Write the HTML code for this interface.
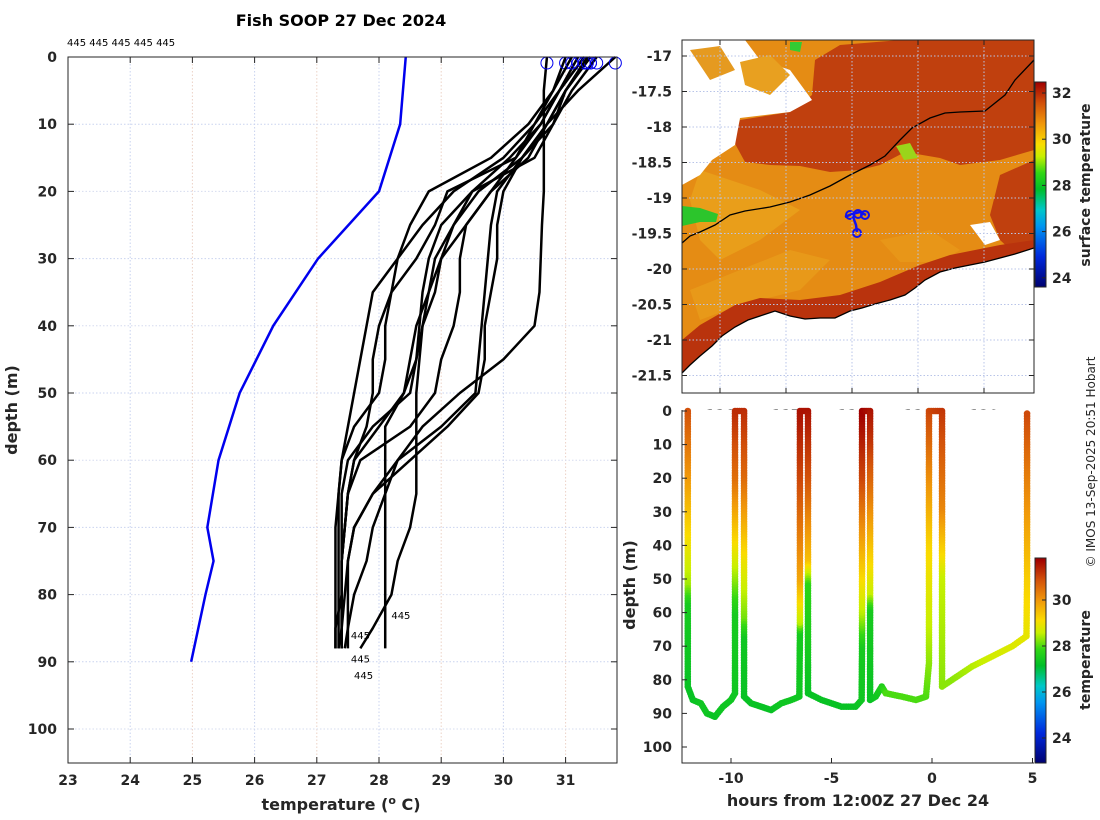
<!DOCTYPE html>
<html><head><meta charset="utf-8"><style>
body{margin:0;background:#fff}
svg{display:block}
text{font-family:"DejaVu Sans","Liberation Sans",sans-serif;fill:#262626}
.tk{font-size:14px;font-weight:bold}
.lb{font-size:16px;font-weight:bold}
</style></head><body>
<svg id="s" width="1100" height="820" viewBox="0 0 1100 820" xmlns="http://www.w3.org/2000/svg">
<rect width="1100" height="820" fill="#fff"/>
<text x="341" y="26" text-anchor="middle" style="font-size:16px;font-weight:bold;fill:#000">Fish SOOP 27 Dec 2024</text>
<text x="67" y="46" style="font-size:10px;fill:#000">445 445 445 445 445</text>
<g id="left"></g>
<g id="map"></g>
<g id="ts"></g>
<text transform="translate(1095,462) rotate(-90)" text-anchor="middle" style="font-size:12px;fill:#262626">© IMOS 13-Sep-2025 20:51 Hobart</text>
</svg>
<script>
// ---------- profile data ----------
const climDepth=[0,10,20,30,40,50,60,70,75,80,90];
const climTemp=[28.43,28.34,28.0,27.02,26.3,25.76,25.42,25.24,25.34,25.21,24.98];
const profDepth=[0,5,10,15,20,25,30,35,40,45,50,55,60,65,70,75,80,85,88];
const prof1=[30.7,30.65,30.65,30.65,30.65,30.62,30.6,30.58,30.5,30.0,29.3,28.7,28.3,28.1,27.9,27.8,27.6,27.5,27.45];
const prof2=[31.8,31.2,30.7,30.3,29.9,29.8,29.75,29.7,29.65,29.6,29.55,29.0,28.3,27.9,27.6,27.5,27.45,27.4,27.4];
const prof3=[31.4,31.0,30.8,30.5,29.5,29.0,28.8,28.7,28.65,28.6,28.4,28.0,27.6,27.5,27.45,27.4,27.4,27.4,27.35];
const prof4=[31.3,30.9,30.6,30.2,29.8,29.4,29.3,29.3,29.2,29.0,28.9,28.5,27.7,27.5,27.45,27.4,27.4,27.4,27.4];
const prof5=[31.5,31.1,30.8,30.3,30.0,29.9,29.9,29.8,29.7,29.7,29.6,29.1,28.5,27.9,27.6,27.5,27.5,27.5,27.5];
const prof6=[31.2,30.9,30.5,30.2,29.1,28.9,28.6,28.2,28.0,27.9,27.9,27.8,27.6,27.5,27.45,27.4,27.4,27.3,27.3];
const prof7=[31.0,30.8,30.5,30.0,29.2,28.7,28.3,27.9,27.8,27.7,27.6,27.5,27.4,27.35,27.3,27.3,27.3,27.3,27.3];
const prof8=[31.4,31.0,30.7,30.4,29.8,29.4,29.0,28.8,28.6,28.5,28.4,28.1,28.1,28.1,28.1,28.1,28.1,28.1,28.1];
const prof9=[31.3,30.9,30.6,30.1,29.5,29.2,28.9,28.8,28.7,28.65,28.6,28.6,28.6,28.6,28.5,28.3,28.2,27.9,27.7];
const prof10=[31.1,30.8,30.4,29.8,28.8,28.5,28.3,28.2,28.1,28.1,28.0,27.6,27.4,27.35,27.35,27.35,27.35,27.35,27.35];
const prof11=[31.35,31.0,30.7,30.3,29.6,29.2,29.0,28.9,28.7,28.6,28.5,27.9,27.5,27.4,27.4,27.4,27.4,27.4,27.4];
const tempTicks=[23,24,25,26,27,28,29,30,31];
const depthTicks=[0,10,20,30,40,50,60,70,80,90,100];
// ---------- depth-time data ----------
const diveHour=[-12.15,-12.15,-12.15,-12.15,-12.15,-12.15,-11.9,-11.5,-11.2,-10.8,-10.4,-10.0,-9.8,-9.8,-9.8,-9.8,-9.8,
 -9.35,-9.35,-9.35,-9.35,-9.35,-9.35,-9.0,-8.5,-8.0,-7.5,-7.0,-6.6,-6.57,-6.57,-6.57,-6.57,-6.57,
 -6.17,-6.17,-6.17,-6.17,-6.17,-5.5,-4.5,-3.8,-3.5,-3.48,-3.48,-3.48,-3.48,
 -3.08,-3.08,-3.08,-3.08,-3.08,-3.08,-2.8,-2.5,-2.3,-1.5,-0.8,-0.3,-0.15,-0.15,-0.15,-0.15,
 0.5,0.5,0.5,0.5,1,2,3,4,4.7,4.73,4.73,4.73];
const diveDepth=[0,20,40,52,58,82,86,87,90,91,88,86,84,60,50,20,0,
 0,20,45,62,68,85,87,88,89,87,86,85,66,63,50,20,0,
 0,20,45,52,84,86,88,88,86,70,60,20,0,
 0,10,25,55,60,86,85,82,84,85,86,85,75,40,22,0,
 0,30,50,82,80,76,73,70,67,50,20,0];
const diveTemp=[30.9,30.0,29.0,28.4,27.5,27.3,27.3,27.4,27.4,27.3,27.4,27.4,27.4,27.5,28.3,30.5,31.3,
 31.3,30.6,29.0,28.2,27.4,27.3,27.3,27.3,27.3,27.4,27.4,27.4,27.5,28.5,29.8,31.0,31.6,
 31.6,30.9,29.5,27.8,27.3,27.3,27.3,27.3,27.4,27.5,28.5,31.0,31.8,
 31.6,31.2,30.4,28.6,27.5,27.3,27.4,27.6,28.0,28.0,28.0,28.0,28.3,29.2,30.0,31.0,
 31.2,30.2,28.6,28.3,28.3,28.5,28.7,28.8,28.9,29.3,30.3,31.0];
const hourTicks=[-10,-5,0,5];
const tsDepthTicks=[0,10,20,30,40,50,60,70,80,90,100];
const latTicks=[-17,-17.5,-18,-18.5,-19,-19.5,-20,-20.5,-21,-21.5];
const lonTicks=[116,117,118,119,120];
const sstTicks=[24,26,28,30,32];
const tsColorTicks=[24,26,28,30];

const NS="http://www.w3.org/2000/svg";
function mk(tag,attrs,parent){const e=document.createElementNS(NS,tag);for(const k in attrs)e.setAttribute(k,attrs[k]);parent.appendChild(e);return e;}
function cmap(f){
 const st=[[0,[0,0,110]],[0.15,[0,40,220]],[0.3,[0,150,240]],[0.38,[0,200,200]],[0.48,[0,190,40]],[0.56,[50,215,20]],[0.64,[200,240,0]],[0.7,[250,220,0]],[0.8,[240,150,10]],[0.9,[210,80,10]],[1,[160,0,0]]];
 f=Math.max(0,Math.min(1,f));
 for(let i=1;i<st.length;i++){if(f<=st[i][0]){const a=st[i-1],b=st[i],t=(f-a[0])/(b[0]-a[0]);const c=a[1].map((v,j)=>Math.round(v+(b[1][j]-v)*t));return `rgb(${c[0]},${c[1]},${c[2]})`;}}
 return 'rgb(160,0,0)';
}
// ---------- LEFT PLOT ----------
const L=document.getElementById('left');
const LX0=68,LX1=617,LY0=57,LY1=763;
const xT=t=>LX0+(t-23)*62.2, yD=d=>LY0+d*6.72;
tempTicks.forEach((t,i)=>{
 const g=mk('line',{x1:xT(t),x2:xT(t),y1:LY0,y2:LY1,stroke:i%2?'#c9d3ef':'#ecd2c6','stroke-dasharray':'1.5,2','stroke-width':1},L);
 
 mk('line',{x1:xT(t),x2:xT(t),y1:LY0,y2:LY0+6,stroke:'#262626'},L);
 mk('line',{x1:xT(t),x2:xT(t),y1:LY1,y2:LY1-6,stroke:'#262626'},L);
 const tx=mk('text',{x:xT(t),y:785,'text-anchor':'middle',class:'tk'},L);tx.textContent=t;
 
});
depthTicks.forEach((d,i)=>{
 const g=mk('line',{x1:LX0,x2:LX1,y1:yD(d),y2:yD(d),stroke:i%2?'#c9d3ef':'#d6dcef','stroke-dasharray':'1.5,2'},L);
 
 mk('line',{x1:LX0,x2:LX0+6,y1:yD(d),y2:yD(d),stroke:'#262626'},L);
 mk('line',{x1:LX1,x2:LX1-6,y1:yD(d),y2:yD(d),stroke:'#262626'},L);
 const tx=mk('text',{x:57,y:yD(d)+5,'text-anchor':'end',class:'tk'},L);tx.textContent=d;
 
});
const cl=mk('polyline',{points:climDepth.map((d,i)=>xT(climTemp[i])+','+yD(d)).join(' '),fill:'none',stroke:'#0000ee','stroke-width':2.5},L);

const profs=[prof1,prof2,prof3,prof4,prof5,prof6,prof7,prof8,prof9,prof10,prof11];
profs.forEach((p,k)=>{
 const pl=mk('polyline',{points:p.map((t,i)=>xT(t)+','+yD(profDepth[i])).join(' '),fill:'none',stroke:'#000','stroke-width':2.5,'stroke-linejoin':'round'},L);
 
 const c=mk('circle',{cx:xT(p[0]),cy:yD(0)+6,r:6,fill:'none',stroke:'#0000ee','stroke-width':1},L);
 
});
[[28.15,83],[27.5,86],[27.5,89.5],[27.55,92]].forEach(([t,d],i)=>{
 const tx=mk('text',{x:xT(t)+3,y:yD(d)+4,style:'font-size:10px;fill:#000'},L);tx.textContent='445';
 
});
mk('rect',{x:LX0,y:LY0,width:LX1-LX0,height:LY1-LY0,fill:'none',stroke:'#262626','stroke-width':1},L);
let t1=mk('text',{x:341,y:810,'text-anchor':'middle',class:'lb'},L);
t1.innerHTML='temperature (<tspan dy="-6" style="font-size:11px">o</tspan><tspan dy="6"> C)</tspan>';

t1=mk('text',{transform:'translate(17,410) rotate(-90)','text-anchor':'middle',class:'lb'},L);t1.textContent='depth (m)';


// ---------- MAP ----------
const M=document.getElementById('map');
const MX0=682,MX1=1034,MY0=40,MY1=393;
const lonX=l=>720+(l-116)*66, latY=a=>56+(-17-a)*71;
const clip=mk('clipPath',{id:'mc'},M);mk('rect',{x:MX0,y:MY0,width:MX1-MX0,height:MY1-MY0},clip);
const mg=mk('g',{'clip-path':'url(#mc)'},M);
const coast=[[682,373],[690,365],[700,356],[712,346],[722,336],[735,327],[748,320],[760,316],[775,311],[790,316],[805,319],[820,318],[835,318],[850,311],[862,308],[875,304],[890,300],[905,295],[915,288],[925,280],[940,272],[955,268],[970,265],[985,262],[1000,258],[1015,254],[1034,248]];
const cs=coast.map(p=>p.join(',')).join(' ');
let p=mk('polygon',{points:'682,40 1034,40 '+coast.slice().reverse().map(p=>p.join(',')).join(' '),fill:'#e58c14'},mg);

mk('polygon',{points:'700,170 760,190 800,210 760,240 720,260 700,240 690,200',fill:'#eaa21c',opacity:0.8},mg);
mk('polygon',{points:'690,290 740,270 790,250 830,260 800,290 740,305 700,320',fill:'#eaa21c',opacity:0.6},mg);
mk('polygon',{points:'880,240 930,230 960,250 940,262 900,262',fill:'#ea9a1a',opacity:0.7},mg);
p=mk('polygon',{points:'740,120 790,112 812,95 815,60 840,45 900,40 1034,40 1034,150 1000,160 960,165 940,158 905,152 880,165 860,170 830,172 800,166 770,165 745,162 733,140',fill:'#c0400e'},mg);

mk('polygon',{points:'1000,175 1034,160 1034,248 1015,254 1000,240 990,215',fill:'#c0400e'},mg);
mk('polygon',{points:'682,340 700,325 735,305 760,298 800,300 840,295 880,282 920,265 950,255 1000,245 1034,240 1034,248 '+coast.slice().reverse().map(p=>p.join(',')).join(' '),fill:'#b9330d'},mg);
mk('polygon',{points:'682,40 745,40 760,60 790,70 812,100 790,112 740,118 735,145 712,160 700,175 682,185',fill:'#fff'},mg);
mk('polygon',{points:'690,50 720,46 735,70 710,80',fill:'#e59a20'},mg);
mk('polygon',{points:'740,62 770,55 790,75 770,95 745,85',fill:'#e8a020'},mg);
mk('polygon',{points:'682,206 700,208 718,214 716,222 700,222 682,226',fill:'#2cc52c'},mg);
mk('polygon',{points:'896,146 910,143 918,158 904,160',fill:'#9bd51a'},mg);
mk('polygon',{points:'790,42 802,42 800,52 790,50',fill:'#33cc33'},mg);
mk('polygon',{points:'970,225 990,222 1000,240 985,245',fill:'#fff'},mg);
p=mk('polygon',{points:cs+' 1034,393 682,393',fill:'#fff'},mg);

p=mk('polyline',{points:cs,fill:'none',stroke:'#000','stroke-width':1.3},mg);

p=mk('polyline',{points:'682,243 690,236 700,232 715,225 730,215 745,211 770,207 790,202 810,195 830,186 850,175 870,165 885,156 900,140 912,128 930,118 945,113 960,112 985,111 1005,95 1015,80 1034,60',fill:'none',stroke:'#000','stroke-width':1.3},mg);

p=mk('path',{d:'M845,217 L852,214 L860,212 L866,215 M852,214 L856,225 L857,232',fill:'none',stroke:'#1010ee','stroke-width':2.5},mg);

[[850,215],[858,214],[865,215],[857,233]].forEach(([x,y])=>mk('circle',{cx:x,cy:y,r:4,fill:'none',stroke:'#1010ee','stroke-width':2},mg));
latTicks.forEach(a=>{
 mk('line',{x1:MX0,x2:MX1,y1:latY(a),y2:latY(a),stroke:'#b8c4e8','stroke-dasharray':'1.5,2'},mg);
 mk('line',{x1:MX0,x2:MX0+5,y1:latY(a),y2:latY(a),stroke:'#262626'},M);
 mk('line',{x1:MX1,x2:MX1-5,y1:latY(a),y2:latY(a),stroke:'#262626'},M);
 const tx=mk('text',{x:672,y:latY(a)+5,'text-anchor':'end',class:'tk'},M);tx.textContent=a;
 
});
lonTicks.forEach(l=>{
 mk('line',{x1:lonX(l),x2:lonX(l),y1:MY0,y2:MY1,stroke:'#b8c4e8','stroke-dasharray':'1.5,2'},mg);
 mk('line',{x1:lonX(l),x2:lonX(l),y1:MY0,y2:MY0+5,stroke:'#262626'},M);
 mk('line',{x1:lonX(l),x2:lonX(l),y1:MY1,y2:MY1-5,stroke:'#262626'},M);
 const tx=mk('text',{x:lonX(l),y:420,'text-anchor':'middle',class:'tk'},M);tx.textContent=l;
 
});
mk('rect',{x:MX0,y:MY0,width:MX1-MX0,height:MY1-MY0,fill:'none',stroke:'#262626'},M);
// map colorbar
const sY=t=>93+(32-t)*23.1;
const cb1T=32.48,cb1B=23.6;
for(let y=82;y<287;y++){const t=32-(y-93)/23.1;mk('rect',{x:1035,y:y,width:11,height:1.2,fill:cmap((t-cb1B)/(cb1T-cb1B))},M);}
mk('rect',{x:1035,y:82,width:11,height:205,fill:'none',stroke:'#262626'},M);
sstTicks.forEach(t=>{
 mk('line',{x1:1046,x2:1042,y1:sY(t),y2:sY(t),stroke:'#262626'},M);
 const tx=mk('text',{x:1052,y:sY(t)+5,class:'tk'},M);tx.textContent=t;
 
});
t1=mk('text',{transform:'translate(1090,185) rotate(-90)','text-anchor':'middle',class:'tk'},M);t1.textContent='surface temperature';


// ---------- DEPTH-TIME ----------
const T=document.getElementById('ts');
const TX0=682,TX1=1034,TY0=410,TY1=763;
const hX=h=>932+h*20.1, dY=d=>411+d*3.36;
mk('rect',{x:TX0,y:TY0,width:TX1-TX0,height:TY1-TY0,fill:'#fff'},T);
const dg=mk('g',{},T);
for(let i=1;i<diveHour.length;i++){
 const x0=hX(diveHour[i-1]),y0=dY(diveDepth[i-1]),x1=hX(diveHour[i]),y1=dY(diveDepth[i]);
 const len=Math.hypot(x1-x0,y1-y0),n=Math.max(1,Math.ceil(len/2.6));
 for(let k=0;k<n;k++){const f=k/n;const t=diveTemp[i-1]+(diveTemp[i]-diveTemp[i-1])*f;
  mk('circle',{cx:x0+(x1-x0)*f,cy:y0+(y1-y0)*f,r:3.3,fill:cmap((t-22.9)/8.9)},dg);}
}
hourTicks.forEach(h=>{
 mk('line',{x1:hX(h),x2:hX(h),y1:TY1,y2:TY1-5,stroke:'#262626'},T);
 const tx=mk('text',{x:hX(h),y:783,'text-anchor':'middle',class:'tk'},T);tx.textContent=h;
 
});
tsDepthTicks.forEach(d=>{
 mk('line',{x1:TX0,x2:TX0+5,y1:dY(d),y2:dY(d),stroke:'#262626'},T);
 const tx=mk('text',{x:672,y:dY(d)+5,'text-anchor':'end',class:'tk'},T);tx.textContent=d;
 
});
mk('polyline',{points:`${TX0},${TY0} ${TX0},${TY1} ${TX1},${TY1}`,fill:'none',stroke:'#262626'},T);
const tY=t=>600+(30-t)*23;
for(let y=558;y<763;y++){const t=30-(y-600)/23;mk('rect',{x:1035,y:y,width:11,height:1.2,fill:cmap((t-22.9)/8.9)},T);}
mk('rect',{x:1035,y:558,width:11,height:205,fill:'none',stroke:'#262626'},T);
tsColorTicks.forEach(t=>{
 mk('line',{x1:1046,x2:1042,y1:tY(t),y2:tY(t),stroke:'#262626'},T);
 const tx=mk('text',{x:1052,y:tY(t)+5,class:'tk'},T);tx.textContent=t;
 
});
t1=mk('text',{transform:'translate(1090,660) rotate(-90)','text-anchor':'middle',class:'tk'},T);t1.textContent='temperature';

t1=mk('text',{x:858,y:806,'text-anchor':'middle',class:'lb'},T);t1.textContent='hours from 12:00Z 27 Dec 24';

t1=mk('text',{transform:'translate(635,585) rotate(-90)','text-anchor':'middle',class:'lb'},T);t1.textContent='depth (m)';

</script>
</body></html>
